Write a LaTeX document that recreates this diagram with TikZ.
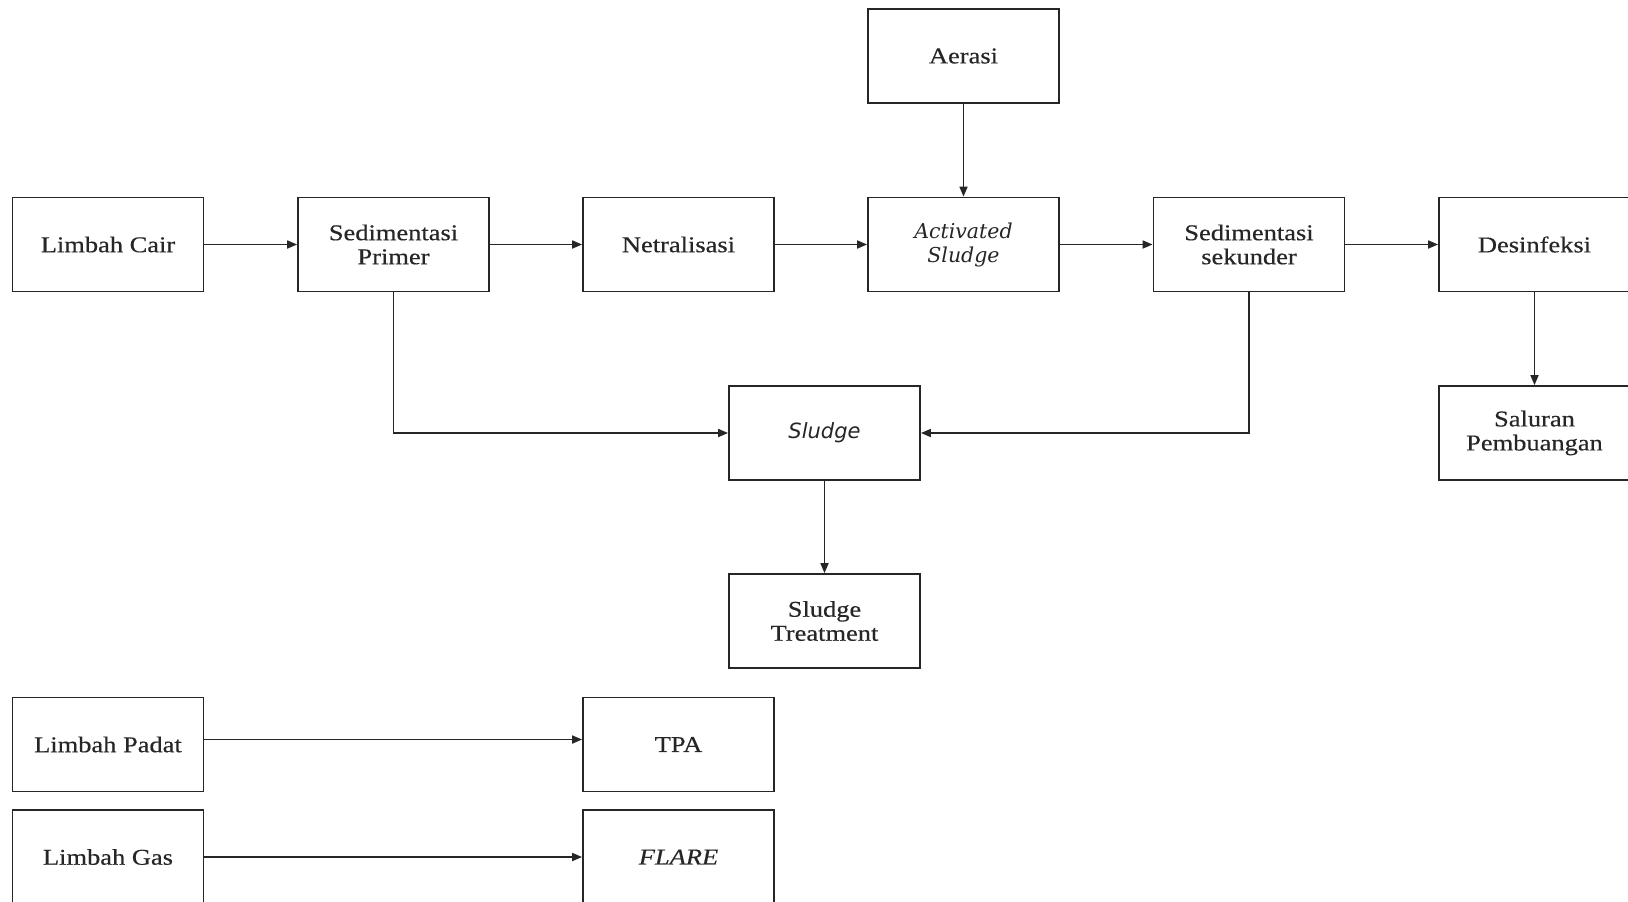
\documentclass[tikz,border=0pt]{standalone}
\usepackage{fontspec}
\setmainfont{Liberation Serif}[FakeStretch=1.17,FakeBold=0.4]
\newfontfamily\itsans{DejaVu Sans}[ItalicFont={DejaVu Sans Oblique}]
\newfontfamily\itserif{DejaVu Serif}
\usetikzlibrary{arrows.meta}
\begin{document}
\begin{tikzpicture}[x=1pt,y=-1pt,
  box/.style={draw=black!85, line width=1.8pt, minimum width=191pt, minimum height=94pt,
    inner sep=0pt, align=center, text=black!85, font=\fontsize{22.6}{24}\selectfont},
  conn/.style={draw=black!85, line width=1.7pt, -{Triangle[length=10pt,width=8pt]}},
  itsn/.style={font=\fontsize{21}{24}\selectfont\itsans\itshape},
  itsr/.style={font=\fontsize{20.5}{24}\selectfont\itserif\itshape}
]
\useasboundingbox (0,0) rectangle (1628,902);
\clip (0,0) rectangle (1628,902);
\fill[white] (0,0) rectangle (1628,902);

\node[box] (aer) at (963.5,56) {Aerasi};
\node[box] (lc) at (108,244.5) {Limbah Cair};
\node[box] (sp) at (393.5,244.5) {Sedimentasi\\Primer};
\node[box] (net) at (678.5,244.5) {Netralisasi};
\node[box,itsr] (as) at (963.5,244.5) {Activated\\Sludge};
\node[box] (ss) at (1249,244.5) {Sedimentasi\\sekunder};
\node[box] (des) at (1534.5,244.5) {Desinfeksi};
\node[box,itsn] (sl) at (824.5,433) {Sludge};
\node[box] (sal) at (1534.5,433) {Saluran\\Pembuangan};
\node[box] (st) at (824.5,621) {Sludge\\Treatment};
\node[box] (lp) at (108,744.5) {Limbah Padat};
\node[box] (tpa) at (678.5,744.5) {TPA};
\node[box] (lg) at (108,857) {Limbah Gas};
\node[box] (fl) at (678.5,857) {\itshape FLARE};

\draw[conn] (lc) -- (sp);
\draw[conn] (sp) -- (net);
\draw[conn] (net) -- (as);
\draw[conn] (as) -- (ss);
\draw[conn] (ss) -- (des);
\draw[conn] (aer) -- (as);
\draw[conn] (des) -- (sal);
\draw[conn] (sp.south) |- (sl.west);
\draw[conn] (ss.south) |- (sl.east);
\draw[conn] (sl) -- (st);
\draw[conn] ([yshift=5pt]lp.east) -- ([yshift=5pt]tpa.west);
\draw[conn] (lg) -- (fl);
\end{tikzpicture}
\end{document}
